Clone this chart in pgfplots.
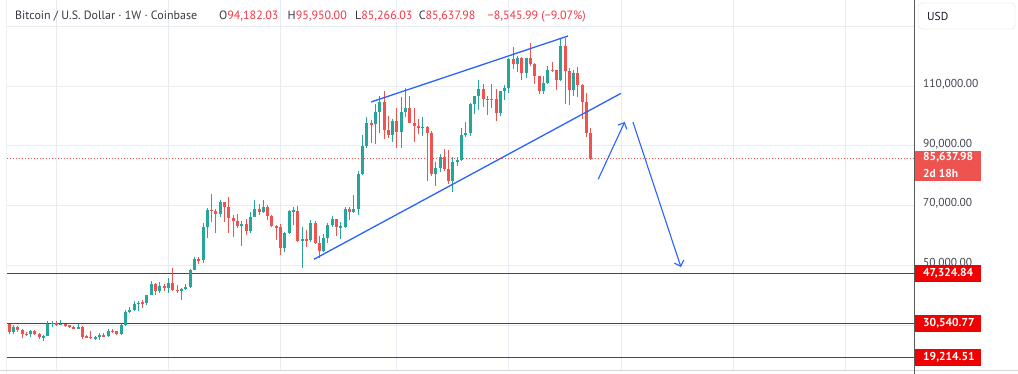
\documentclass[border=0pt]{standalone}
\usepackage{pgfplots}
\pgfplotsset{compat=1.18}
\usepackage{pgfplotstable}
\usepackage{fontspec}
\setmainfont{PT Sans}
\usetikzlibrary{arrows.meta}
\definecolor{cup}{RGB}{38,166,154}
\definecolor{cdn}{RGB}{239,83,80}
\definecolor{lvl}{RGB}{240,0,0}
\definecolor{gridc}{RGB}{232,236,242}
\definecolor{tvblue}{RGB}{41,98,255}
\definecolor{txt}{RGB}{19,23,34}
\definecolor{hdrtxt}{RGB}{55,58,68}
\definecolor{axtxt}{RGB}{70,73,83}
\definecolor{hdr}{RGB}{242,54,69}

\pgfplotstableread{
i O H L C
-11 30300 30480 27130 27590
-10 27590 30030 26940 29230
-9 29230 29840 27680 28430
-8 28430 28640 25800 26920
-7 26920 27660 26350 26850
-6 26850 28450 25860 28080
-5 28080 28450 26510 27110
-4 27110 27400 25350 25840
-3 25840 26800 24790 26340
-2 26340 31390 26260 30470
-1 30470 31280 29500 30590
0 30590 31500 29700 30170
1 30170 31800 29950 30250
2 30250 30400 29500 30080
3 30080 30080 28900 29280
4 29280 29700 28600 29050
5 29050 30250 28700 29300
6 29300 29680 25200 26100
7 26100 26800 25800 26000
8 26000 28150 25350 25800
9 25800 26400 24900 25840
10 25840 27450 24930 26530
11 26530 27480 26000 26250
12 26250 28600 26000 27970
13 27970 28580 27200 27920
14 27920 28000 26550 26860
15 26860 30350 26800 29990
16 29990 35200 29800 34500
17 34500 35900 34100 35010
18 35010 37980 34600 37050
19 37050 37980 34800 37450
20 37450 38400 35700 37440
21 37440 40200 36850 39970
22 39970 44700 39970 43800
23 43800 44000 40200 41400
24 41400 44300 40600 42990
25 42990 43800 41300 42300
26 42300 45900 40750 43950
27 43950 49000 41500 41750
28 41750 43550 40600 41600
29 41600 42300 38550 42100
30 42100 43850 41800 42600
31 42600 48600 42300 48300
32 48300 52800 48300 52100
33 52100 52900 50600 51700
34 51700 64000 50900 62900
35 62900 69200 59200 68400
36 68400 73800 64600 68300
37 68300 68900 60800 67200
38 67200 71700 66300 71300
39 71300 71300 64500 69400
40 69400 72800 60700 65700
41 65700 66900 59600 64950
42 64950 67200 62500 63100
43 63100 64700 56500 63900
44 63900 65500 60200 61500
45 61500 67700 60800 66300
46 66300 71950 66100 69000
47 69000 70600 66700 67800
48 67800 71900 67600 69600
49 69600 70200 65100 66600
50 66600 66900 62900 63200
51 63200 63400 58400 62700
52 62700 63800 53500 55800
53 55800 61300 54300 60800
54 60800 68400 60600 68200
55 68200 69400 63400 68300
56 68300 70000 57800 58100
57 58100 62700 49000 58700
58 58700 61800 56100 58400
59 58400 65000 57800 64200
60 64200 64900 57200 57300
61 57300 59800 52600 54900
62 54900 60600 54600 59100
63 59100 64100 57500 63600
64 63600 66500 62700 65600
65 65600 65600 59800 62800
66 62800 64500 58900 62900
67 62900 69400 62600 69000
68 69000 69500 65100 68000
69 68000 73600 67500 68700
70 68700 81500 66800 80400
71 80400 93500 80200 89900
72 89900 99600 89400 97700
73 97700 98700 90800 97200
74 97200 104000 90500 101200
75 101200 106500 94200 104500
76 104500 108300 92200 95200
77 95200 99950 92500 93700
78 93700 98900 91200 98300
79 98300 102700 89200 94500
80 94500 106400 89300 101200
81 101200 109500 99500 102600
82 102600 106500 97800 97700
83 97700 102500 91200 96500
84 96500 98800 94100 96100
85 96100 99500 93400 96300
86 96300 96500 78200 94300
87 94300 95000 80000 80700
88 80700 84700 76600 82600
89 82600 87400 81200 86100
90 86100 88800 81600 82300
91 82300 88500 77100 78300
92 78300 86100 74400 84500
93 84500 86400 83100 85200
94 85200 95800 85000 93700
95 93700 97900 92800 94300
96 94300 104300 93400 104000
97 104000 106600 100700 106500
98 106500 112000 102000 109000
99 109000 110700 103100 105700
100 105700 106800 100400 105600
101 105600 110600 102700 105500
102 105500 108900 98200 100900
103 100900 108500 100000 108400
104 108400 110500 105200 109200
105 109200 119500 107500 119100
106 119100 123200 115700 117300
107 117300 120200 114700 119400
108 119400 119800 112000 114200
109 114200 119300 112600 119300
110 119300 124500 116800 117400
111 117400 117600 110600 113500
112 113500 113500 107300 108200
113 108200 113400 107200 111100
114 111100 116800 110600 115300
115 115300 117900 114700 115200
116 115200 115400 108600 112100
117 112100 125700 111600 123500
118 123500 126200 104000 115100
119 115100 115900 103500 108600
120 108600 115500 106700 114500
121 114500 116400 106300 110500
122 110500 110700 98900 104700
123 104700 107500 93000 94200
124 94182.03 95950 85266.03 85637.98
}\btc

\begin{document}
\begin{tikzpicture}[x=1pt,y=1pt]
\useasboundingbox (0,0) rectangle (1018,374);
\fill[white] (0,0) rectangle (1018,374);
\begin{axis}[
  at={(6.5pt,3pt)}, anchor=south west,
  scale only axis, width=908pt, height=371pt,
  xmin=-11.6, xmax=199.1,
  ymin=14627, ymax=138791,
  axis line style={draw=none},
  xtick={0,26,52,79,105,131,157,183}, xticklabels={},
  ytick={50000,70000,90000,110000},
  extra y ticks={30000,130000}, extra y tick labels={},
  extra y tick style={grid=major},
  scaled y ticks=false,
  yticklabel pos=right,
  major tick length=0pt,
  tick style={draw=none},
  xmajorgrids, ymajorgrids,
  grid style={gridc, line width=1pt},
  yticklabel style={anchor=west, inner sep=0pt, xshift=8.5pt, yshift=2pt,
    font=\fontsize{11.5}{13}\selectfont, text=axtxt,
    /pgf/number format/fixed, /pgf/number format/fixed zerofill,
    /pgf/number format/precision=2, /pgf/number format/1000 sep={,},
    /pgf/number format/assume math mode=true},
]
% level lines
\addplot[lvl, line width=1pt, forget plot] coordinates {(-11.6,47324.84) (199.1,47324.84)};
\addplot[lvl, line width=1pt, forget plot] coordinates {(-11.6,30540.77) (199.1,30540.77)};
\addplot[lvl, line width=1pt, forget plot] coordinates {(-11.6,19214.51) (199.1,19214.51)};
\addplot[cdn, line width=1pt, dash pattern=on 1pt off 2pt, forget plot] coordinates {(-11.6,85637.98) (199.1,85637.98)};
% wicks
\addplot[draw=none, forget plot, restrict expr to domain={\thisrow{C}-\thisrow{O}}{0:10000000},
  error bars/.cd, y dir=both, y explicit, error mark=none, error bar style={draw=cup, line width=1pt}]
  table[x=i, y expr={(\thisrow{H}+\thisrow{L})/2}, y error expr={(\thisrow{H}-\thisrow{L})/2}] {\btc};
\addplot[draw=none, forget plot, restrict expr to domain={\thisrow{C}-\thisrow{O}}{-10000000:-0.001},
  error bars/.cd, y dir=both, y explicit, error mark=none, error bar style={draw=cdn, line width=1pt}]
  table[x=i, y expr={(\thisrow{H}+\thisrow{L})/2}, y error expr={(\thisrow{H}-\thisrow{L})/2}] {\btc};
% bodies
\addplot[draw=none, forget plot, restrict expr to domain={\thisrow{C}-\thisrow{O}}{0:10000000},
  error bars/.cd, y dir=both, y explicit, error mark=none, error bar style={draw=cup, line width=3pt}]
  table[x=i, y expr={(\thisrow{O}+\thisrow{C})/2}, y error expr={max(abs(\thisrow{C}-\thisrow{O})/2,170)}] {\btc};
\addplot[draw=none, forget plot, restrict expr to domain={\thisrow{C}-\thisrow{O}}{-10000000:-0.001},
  error bars/.cd, y dir=both, y explicit, error mark=none, error bar style={draw=cdn, line width=3pt}]
  table[x=i, y expr={(\thisrow{O}+\thisrow{C})/2}, y error expr={max(abs(\thisrow{C}-\thisrow{O})/2,170)}] {\btc};
% drawings
\addplot[tvblue, line width=1.3pt, forget plot] coordinates {(73.0,104654) (118.7,126743)};
\addplot[tvblue, line width=1.3pt, forget plot] coordinates {(59.74,52010) (130.97,107533)};
\addplot[tvblue, line width=1.1pt, -{Straight Barb[length=5pt,width=10pt]}, forget plot] coordinates {(125.7,78784) (131.85,97961)};
\addplot[tvblue, line width=1.1pt, -{Straight Barb[length=5pt,width=10pt]}, forget plot] coordinates {(133.76,97961) (144.9,49433)};
\end{axis}
% frame
\draw[gray!12, line width=1pt] (6,0) -- (6,374);
\draw[gridc!80!gray, line width=1pt] (0,3.3) -- (1018,3.3);
\draw[black!65, line width=1pt] (914.5,0) -- (914.5,374);
% header
\begin{scope}[every node/.style={anchor=base west, inner sep=0pt, font=\fontsize{12}{14}\selectfont, text=hdrtxt}]
\node at (15,354.5) {Bitcoin / U.S. Dollar · 1W · Coinbase};
\node at (219,354.5) {O\textcolor{hdr}{94,182.03}};
\node at (287.5,354.5) {H\textcolor{hdr}{95,950.00}};
\node at (355,354.5) {L\textcolor{hdr}{85,266.03}};
\node at (418.6,354.5) {C\textcolor{hdr}{85,637.98}};
\node at (487.5,354.5) {\textcolor{hdr}{−8,545.99 (−9.07\%)}};
\end{scope}
% price boxes
\begin{scope}[every node/.style={anchor=west, inner sep=0pt, font=\bfseries\fontsize{11.5}{13}\selectfont, text=white}]
\fill[cdn] (915,193.3) rectangle (981,223.3);
\node at (923,216.3) {85,637.98};
\node at (923,200.7) {2d 18h};
\fill[lvl] (915,92) rectangle (981,109);
\node at (923,100.5) {47,324.84};
\fill[lvl] (915,42.3) rectangle (981,59);
\node at (923,50.7) {30,540.77};
\fill[lvl] (915,8) rectangle (981,24.7);
\node at (923,16.3) {19,214.51};
\end{scope}
% USD box
\draw[gray!25, fill=white, rounded corners=4pt] (918,345) rectangle (1015,371);
\node[anchor=west, inner sep=0pt, font=\fontsize{11.5}{13}\selectfont, text=txt] at (927,358) {USD};
\end{tikzpicture}
\end{document}
